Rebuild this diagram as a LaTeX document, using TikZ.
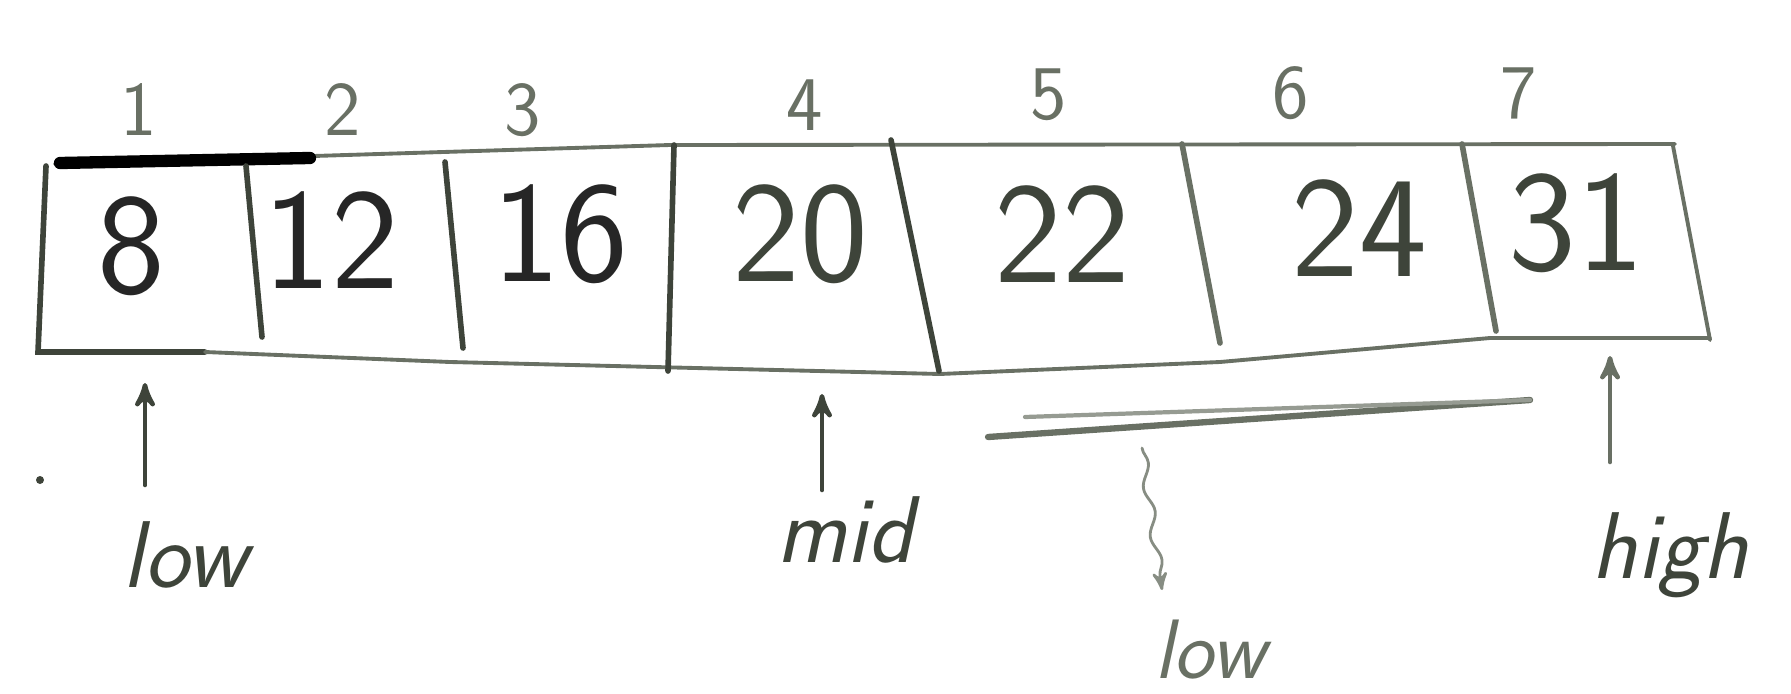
\documentclass[tikz,border=0pt]{standalone}
\usepackage{fontspec}
\setmainfont{DejaVu Sans}
\usepackage{xcolor}
\usetikzlibrary{arrows,decorations.pathmorphing}

\definecolor{pencil}{RGB}{62,68,58}
\definecolor{faded}{RGB}{105,112,100}

\begin{document}
\begin{tikzpicture}[line cap=round,
    idx/.style={text=faded, font=\fontsize{22}{24}\selectfont\sffamily},
    val/.style={text=pencil, font=\fontsize{41}{44}\selectfont\sffamily},
    lbl/.style={text=pencil, font=\fontsize{27}{30}\selectfont\sffamily\itshape},
    wall/.style={draw=pencil, line width=1.6pt},
    ptr/.style={->, draw=pencil, line width=1.3pt, >=stealth'}]
    \useasboundingbox (0,0) rectangle (17.91,-6.93);

    % 配列の枠
    \draw[wall, line width=1.1pt, draw=faded] (0.55,-1.64) -- (6.7,-1.45) -- (16.75,-1.44);
    \draw[wall, line width=3.5pt, draw=black] (0.6,-1.63) -- (3.1,-1.58);
    \draw[wall] (0.46,-1.66) -- (0.38,-3.52) -- (2.05,-3.52);
    \draw[wall, line width=1.1pt, draw=faded] (2.05,-3.52) -- (4.5,-3.62) -- (9.4,-3.74)
        -- (12.2,-3.62) -- (14.9,-3.38) -- (17.1,-3.38);

    % 仕切り
    \draw[wall] (2.46,-1.66) -- (2.62,-3.37);
    \draw[wall] (4.45,-1.62) -- (4.63,-3.48);
    \draw[wall] (6.74,-1.45) -- (6.68,-3.71);
    \draw[wall] (8.91,-1.40) -- (9.39,-3.71);
    \draw[wall, draw=faded] (11.82,-1.44) -- (12.20,-3.43);
    \draw[wall, draw=faded] (14.62,-1.44) -- (14.96,-3.31);
    \draw[wall, line width=1.1pt, draw=faded] (16.73,-1.46) -- (17.10,-3.40);

    % 添字
    \node[idx] (i1) at (1.39,-1.10) {1};
    \node[idx] (i2) at (3.43,-1.10) {2};
    \node[idx] (i3) at (5.23,-1.10) {3};
    \node[idx] (i4) at (8.05,-1.05) {4};
    \node[idx] (i5) at (10.49,-0.95) {5};
    \node[idx] (i6) at (12.91,-0.93) {6};
    \node[idx] (i7) at (15.19,-0.93) {7};

    % 値
    \node[val, text=black!85] (v1) at (1.31,-2.46) {8};
    \node[val, text=black!85] (v2) at (3.31,-2.40) {12};
    \node[val, text=black!85] (v3) at (5.60,-2.34) {16};
    \node[val] (v4) at (8.00,-2.34) {20};
    \node[val] (v5) at (10.62,-2.34) {22};
    \node[val] (v6) at (13.59,-2.28) {24};
    \node[val] (v7) at (15.76,-2.23) {31};

    % ポインタ
    \coordinate (lowtip) at (1.45,-3.83);
    \coordinate (midtip) at (8.22,-3.94);
    \coordinate (hightip) at (16.10,-3.56);
    \node[lbl] (low) at (1.85,-5.55) {low};
    \node[lbl] (mid) at (8.45,-5.30) {mid};
    \node[lbl] (high) at (16.70,-5.55) {high};
    \coordinate (lowtail) at (1.45,-4.85);
    \coordinate (midtail) at (8.22,-4.90);
    \coordinate (hightail) at (16.10,-4.62);
    \draw[ptr] (lowtail) -- (lowtip);
    \draw[ptr] (midtail) -- (midtip);
    \draw[ptr, draw=faded] (hightail) -- (hightip);

    % 取り消し線と新しい low
    \coordinate (cutL) at (9.88,-4.37);
    \coordinate (cutR) at (15.30,-4.00);
    \draw[draw=faded, line width=1.8pt] (cutL) -- (cutR);
    \draw[draw=faded!70, line width=1.2pt] (10.25,-4.17) -- (cutR);
    \coordinate (wavetop) at (11.42,-4.48);
    \node[lbl, text=faded, font=\fontsize{24}{28}\selectfont\sffamily\itshape] (newlow) at (12.10,-6.50) {low};
    \draw[->, draw=faded!80, line width=0.8pt, >=stealth',
        decorate, decoration={snake, amplitude=1.2pt, segment length=14pt, post length=3pt}]
        (wavetop) -- (11.62,-5.90);

    % 余白の点
    \fill[pencil] (0.40,-4.80) circle (0.04);
\end{tikzpicture}
\end{document}
